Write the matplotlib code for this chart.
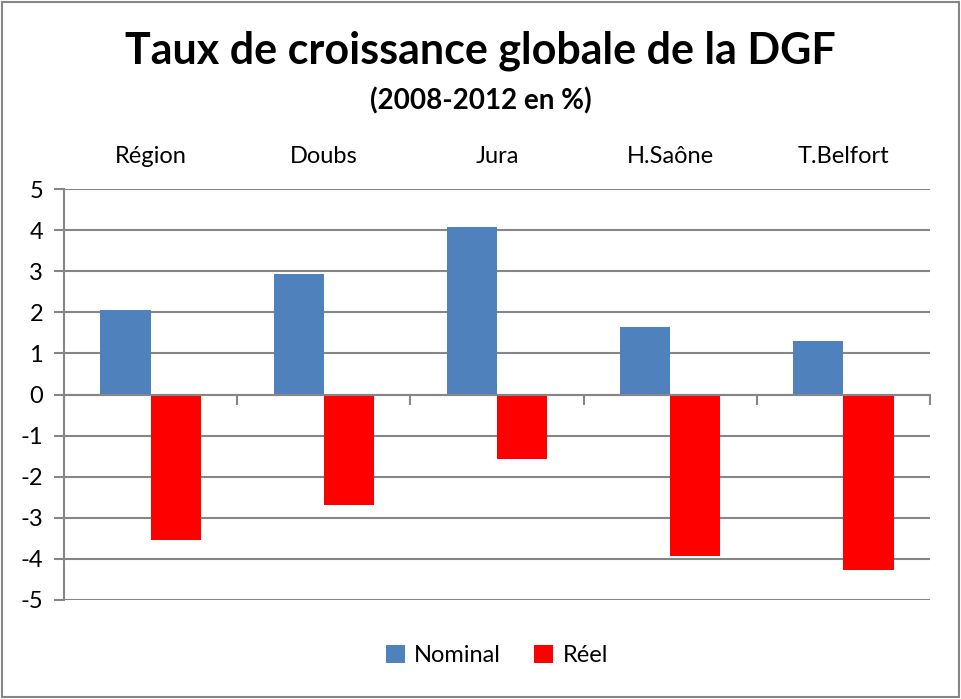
import matplotlib.pyplot as plt
import numpy as np
from matplotlib.patches import Rectangle

# Données
categories = ['Région', 'Doubs', 'Jura', 'H.Saône', 'T.Belfort']
nominal = [2.05, 2.93, 4.08, 1.65, 1.31]
reel = [-3.53, -2.70, -1.58, -3.92, -4.26]

plt.rcParams['font.family'] = ['Lato', 'DejaVu Sans']
plt.rcParams['axes.unicode_minus'] = False

fig = plt.figure(figsize=(9.61, 6.99), dpi=100)
ax = fig.add_axes([64 / 961, 1 - 600 / 699, (930 - 64) / 961, (600 - 189) / 699])

x = np.arange(len(categories))
largeur = 0.29
ax.bar(x - largeur / 2, nominal, largeur, color='#4F81BD', label='Nominal', zorder=3)
ax.bar(x + largeur / 2, reel, largeur, color='#FF0000', label='Réel', zorder=3)

ax.set_xlim(-0.5, len(categories) - 0.5)
ax.set_ylim(-5, 5)
ax.set_yticks(range(-5, 6))
ax.grid(axis='y', color='#868686', linewidth=1.5, zorder=0)

for s in ['top', 'right']:
    ax.spines[s].set_visible(False)
ax.spines['left'].set_color('#868686')
ax.spines['left'].set_linewidth(1.5)
ax.spines['bottom'].set_position(('data', 0))
ax.spines['bottom'].set_color('#868686')
ax.spines['bottom'].set_linewidth(1.5)
ax.spines['bottom'].set_zorder(4)

ax.set_xticks(x)
ax.set_xticklabels(categories, fontsize=17)
ax.set_xticks(np.arange(-0.5, len(categories)), minor=True)
ax.tick_params(axis='x', which='major', bottom=False, labelbottom=False,
               top=False, labeltop=True, pad=12)
ax.tick_params(axis='x', which='minor', bottom=True, top=False, direction='out',
               length=7, width=1.5, color='#868686')
ax.tick_params(axis='y', direction='out', length=7, width=1.5, color='#868686',
               labelsize=17, pad=8)

fig.text(0.5, 0.927, 'Taux de croissance globale de la DGF', ha='center', va='center',
         fontsize=31, fontweight='bold')
fig.text(0.5, 0.855, '(2008-2012 en %)', ha='center', va='center',
         fontsize=20, fontweight='bold')

ax.legend(loc='center', bbox_to_anchor=(0.5, -0.135), ncol=2, frameon=False,
          fontsize=17, handlelength=0.8, handleheight=0.8, columnspacing=1.4,
          handletextpad=0.4)

fig.patches.append(Rectangle((0.002, 0.003), 0.996, 0.994, transform=fig.transFigure,
                             fill=False, edgecolor='#868686', linewidth=1.5))

fig.savefig('out.png', dpi=100)
